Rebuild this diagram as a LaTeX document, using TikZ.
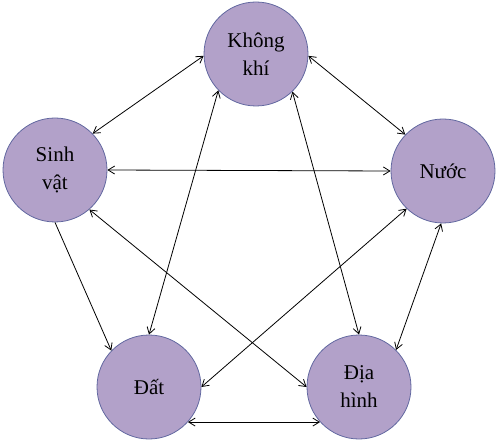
\documentclass[tikz,border=0pt]{standalone}
\usepackage{fontspec}
\setmainfont{Liberation Serif}
\usetikzlibrary{arrows.meta}
\definecolor{factorFill}{RGB}{178,161,201}
\definecolor{factorLine}{RGB}{98,104,160}
\tikzset{factor/.style={circle, fill=factorFill, draw=factorLine, line width=0.8pt,
	minimum size=104pt, inner sep=0pt, align=center, font=\fontsize{21}{28}\selectfont}}

\begin{document}
\begin{tikzpicture}[x=1pt, y=1pt, <->, >={Straight Barb[length=6.5pt,width=8pt]},
					line width=0.8pt]
					\useasboundingbox (0,0) rectangle (497,442);
					\node[factor] at (256,388) (kk)   {Không\\khí};
					\node[factor] at (55,272)  (sv)   {Sinh\\vật};
					\node[factor] at (443,271) (nuoc) {Nước};
					\node[factor] at (149,55)  (dat)  {Đất};
					\node[factor] at (359,55)  (dh)   {Địa\\hình};
					\path (kk.182) edge (sv.44);
					\path (kk.358) edge (nuoc.136);
					\path (sv.0) edge (nuoc.180);
					\path (kk.224) edge (dat.90);
					\path (kk.314) edge (dh.90);
					\path (sv.270) edge[->] (dat.136);
					\path (sv.311) edge (dh.180);
					\path (nuoc.226) edge (dat.0);
					\path (nuoc.268) edge (dh.45);
					\path (dat.318) edge (dh.222);
				\end{tikzpicture}
\end{document}
